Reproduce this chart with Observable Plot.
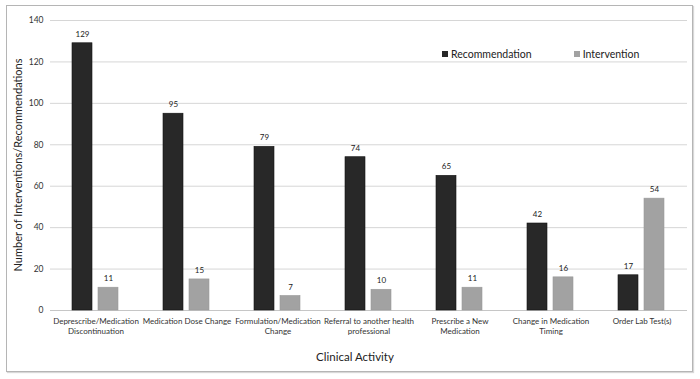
<!DOCTYPE html>
<html>
<head>
<meta charset="utf-8">
<script src="https://cdn.jsdelivr.net/npm/d3@7"></script>
<script src="https://cdn.jsdelivr.net/npm/@observablehq/plot@0.6"></script>
<style>
  html, body { margin: 0; padding: 0; background: #fff; }
  #wrap { position: relative; width: 700px; height: 379px; font-family: Lato, "Open Sans", sans-serif; }
  #frame { position: absolute; left: 6px; top: 5px; width: 685px; height: 365px; border: 1px solid #b5b5b5; box-shadow: 1px 1px 1px #d8d8d8; }
  #chart { position: absolute; left: 0; top: 0; }
  #legend { position: absolute; top: 48px; left: 442px; font-size: 10.5px; color: #222; display: flex; }
  #legend span.item { display: inline-flex; align-items: center; }
  #legend span.sw { display: inline-block; width: 6px; height: 6px; margin-right: 3px; }
  #ytitle { position: absolute; left: 17px; top: 165px; transform: translate(-50%, -50%) rotate(-90deg); white-space: nowrap; font-size: 11px; color: #222; }
  #xtitle { position: absolute; left: 355px; top: 356px; transform: translate(-50%, -50%); white-space: nowrap; font-size: 11.5px; color: #222; }
</style>
</head>
<body>
<div id="wrap">
  <div id="frame"></div>
  <div id="chart"></div>
  <div id="legend"></div>
  <div id="ytitle"></div>
  <div id="xtitle"></div>
</div>
<script>
const categories = [
  "Deprescribe/Medication Discontinuation",
  "Medication Dose Change",
  "Formulation/Medication Change",
  "Referral to another health professional",
  "Prescribe a New Medication",
  "Change in Medication Timing",
  "Order Lab Test(s)"
];
const categoryLabels = [
  "Deprescribe/Medication\nDiscontinuation",
  "Medication Dose Change",
  "Formulation/Medication\nChange",
  "Referral to another health\nprofessional",
  "Prescribe a New\nMedication",
  "Change in Medication\nTiming",
  "Order Lab Test(s)"
];
const series = ["Recommendation", "Intervention"];
const recommendation = [129, 95, 79, 74, 65, 42, 17];
const intervention = [11, 15, 7, 10, 11, 16, 54];
const yTicks = [0, 20, 40, 60, 80, 100, 120, 140];
const yTitle = "Number of Interventions/Recommendations";
const xTitle = "Clinical Activity";
const colors = ["#282828", "#a2a2a2"];

const data = [];
categories.forEach((c, i) => {
  data.push({category: c, series: series[0], value: recommendation[i]});
  data.push({category: c, series: series[1], value: intervention[i]});
});

const catFormat = d => categoryLabels[categories.indexOf(d)];

const chart = Plot.plot({
  width: 700,
  height: 379,
  marginLeft: 48,
  marginRight: 11,
  marginTop: 20,
  marginBottom: 69,
  style: {fontFamily: "Lato, 'Open Sans', sans-serif", color: "#333", background: "transparent"},
  y: {domain: [0, 140], ticks: yTicks},
  fx: {domain: categories, padding: 0},
  x: {domain: series, paddingInner: 0.226, paddingOuter: 0.84, axis: null},
  color: {domain: series, range: colors},
  marks: [
    Plot.gridY(yTicks, {stroke: "#d6d6d6", strokeOpacity: 1, strokeWidth: 1}),
    Plot.ruleY([0], {stroke: "#c6c6c6", strokeWidth: 1}),
    Plot.barY(data, {fx: "category", x: "series", y: "value", fill: "series", stroke: d => d.series === series[0] ? "#111" : "#999", strokeWidth: 0.6}),
    Plot.text(data, {fx: "category", x: "series", y: "value", text: d => String(d.value), dy: -9, fontSize: 8, fill: "#222"}),
    Plot.axisY(yTicks, {tickSize: 0, tickPadding: 7, fontSize: 8.5, label: null}),
    Plot.axisFx({anchor: "bottom", tickSize: 0, tickPadding: 6, fontSize: 8, lineHeight: 1.25, label: null, tickFormat: catFormat})
  ]
});
document.getElementById("chart").appendChild(chart);

const legend = document.getElementById("legend");
series.forEach((s, i) => {
  const item = document.createElement("span");
  item.className = "item";
  item.style.marginRight = i === 0 ? "42px" : "0";
  const sw = document.createElement("span");
  sw.className = "sw";
  sw.style.background = colors[i];
  item.appendChild(sw);
  item.appendChild(document.createTextNode(s));
  legend.appendChild(item);
});
document.getElementById("ytitle").textContent = yTitle;
document.getElementById("xtitle").textContent = xTitle;
</script>
</body>
</html>
